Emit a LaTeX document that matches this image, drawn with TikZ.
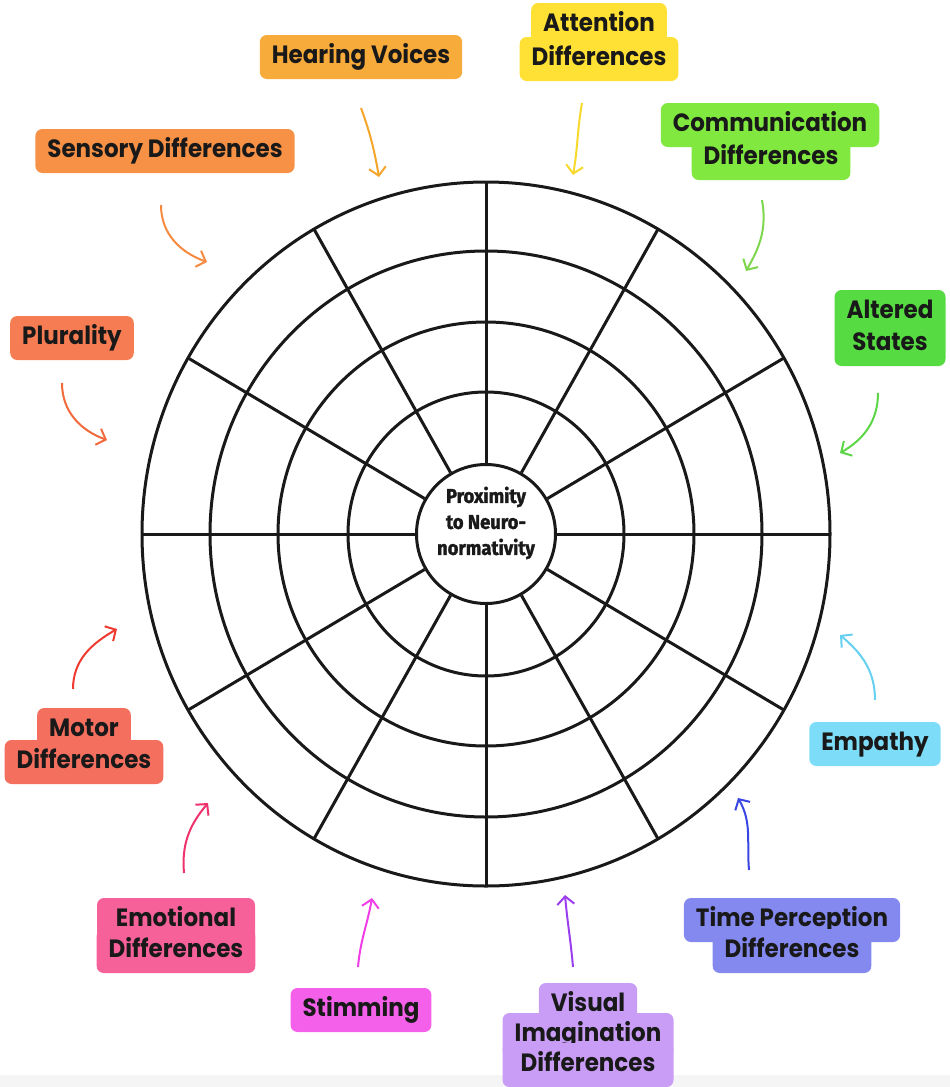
\documentclass[tikz,border=0pt]{standalone}
\usepackage{fontspec}
\usetikzlibrary{arrows.meta}
\newfontfamily\tagfont{Poppins}[FakeStretch=0.92]
\newfontfamily\hubfont{Fira Sans}[FakeStretch=0.92,FakeBold=1.5]
%% label fills
\definecolor{hearfill}{HTML}{F7AB3A}
\definecolor{attfill}{HTML}{FFE135}
\definecolor{commfill}{HTML}{80E83E}
\definecolor{altfill}{HTML}{56DB42}
\definecolor{empfill}{HTML}{7DDDF8}
\definecolor{timefill}{HTML}{8489F0}
\definecolor{visfill}{HTML}{C99DF6}
\definecolor{stimfill}{HTML}{F460EA}
\definecolor{emofill}{HTML}{F6619A}
\definecolor{motfill}{HTML}{F56F5F}
\definecolor{plufill}{HTML}{F67D53}
\definecolor{sensfill}{HTML}{F79146}
%% arrow colours
\definecolor{hearline}{HTML}{F5A52A}
\definecolor{attline}{HTML}{F7D92C}
\definecolor{commline}{HTML}{7ED64C}
\definecolor{altline}{HTML}{5CD646}
\definecolor{empline}{HTML}{66D0F0}
\definecolor{timeline}{HTML}{3A46E2}
\definecolor{visline}{HTML}{9B3EF0}
\definecolor{stimline}{HTML}{F03EE6}
\definecolor{emoline}{HTML}{EF316C}
\definecolor{motline}{HTML}{F03A2F}
\definecolor{pluline}{HTML}{F06A3B}
\definecolor{sensline}{HTML}{F58A40}
\begin{document}
\begin{tikzpicture}
[x=1pt,y=-1pt,
  ring/.style={line width=3pt,black!90},%
  tagbox/.style={rounded corners=7pt,inner xsep=12pt,inner ysep=0pt,
    text height=19pt,text depth=6pt,minimum height=44pt,text=black!90,
    font=\tagfont\bfseries\fontsize{25}{30}\selectfont},%
  pointer/.style={line width=2pt,-{Straight Barb[length=8pt,width=17pt]}}]
%% page and bottom strip
\useasboundingbox (0,0) rectangle (950,1087);
\fill[black!4] (0,1075) rectangle (950,1087);
%% the wheel
\node (hub) at (486,534) [circle,draw,ring,fill=white,minimum size=139pt,
  inner sep=0pt] {};
\node (hubtext) at ([yshift=11pt]hub.center) [align=center,text=black!90,
  font=\hubfont\bfseries\fontsize{20}{26}\selectfont]
  {Proximity\\to Neuro-\\normativity};
\foreach \rx/\ry in {138/142, 208/212, 276/283, 344/352} {
  \draw[ring] (hub.center) ellipse [x radius=\rx pt,y radius=\ry pt];
}
\foreach \a in {0,30,...,330} {
  \draw[ring] (hub.\a) -- ([shift={(\a:344pt and 352pt)}]hub.center);
}
%% labels, one box per line
\foreach \name/\x/\y/\tint/\w/\txt in {
  hear/361/57/hearfill/0/Hearing Voices,
  att1/599/25/attfill/0/Attention, att2/599/59/attfill/0/Differences,
  comm1/770/125/commfill/0/Communication, comm2/771/158/commfill/0/Differences,
  alt1/890/312/altfill/111/Altered, alt2/890/344/altfill/111/States,
  emp/875/744/empfill/0/Empathy,
  time1/792/920/timefill/0/Time Perception, time2/792/951/timefill/0/Differences,
  vis1/588/1005/visfill/0/Visual, vis2/588/1035/visfill/171/Imagination,
  vis3/588/1065/visfill/171/Differences,
  stim/361/1010/stimfill/0/Stimming,
  emo1/176/920/emofill/158/Emotional, emo2/176/951/emofill/158/Differences,
  mot1/84/730/motfill/0/Motor, mot2/84/762/motfill/0/Differences,
  plu/72/338/plufill/0/Plurality,
  sens/165/151/sensfill/0/Sensory Differences} {
  \node (\name) at (\x,\y) [tagbox,fill=\tint,minimum width=\w pt] {\txt};
}
%% arrow ends
\foreach \name/\x/\y in {
  hearA/361/108, hearB/379/177, attA/582/103, attB/573/175,
  commA/762/200, commB/746/271, altA/878/393, altB/840/453,
  empA/875/700, empB/840/635, timeA/749/870, timeB/738/798,
  visA/573/967, visB/565/895, stimA/358/967, stimB/372/898,
  emoA/184/873, emoB/208/803, motA/73/689, motB/117/629,
  pluA/62/383, pluB/107/440, sensA/161/205, sensB/207/262} {
  \coordinate (\name) at (\x,\y);
}
%% arrows
\foreach \from/\to/\tint/\bout/\bin in {
  hearA/hearB/hearline/-70/100, attA/attB/attline/-100/80,
  commA/commB/commline/-80/60, altA/altB/altline/-90/30,
  empA/empB/empline/90/-40, timeA/timeB/timeline/95/-60,
  visA/visB/visline/95/-85, stimA/stimB/stimline/85/-100,
  emoA/emoB/emoline/95/-130, motA/motB/motline/90/-150,
  pluA/pluB/pluline/-90/160, sensA/sensB/sensline/-90/160} {
  \draw[pointer,color=\tint] (\from) to[out=\bout,in=\bin] (\to);
}
\end{tikzpicture}
\end{document}
